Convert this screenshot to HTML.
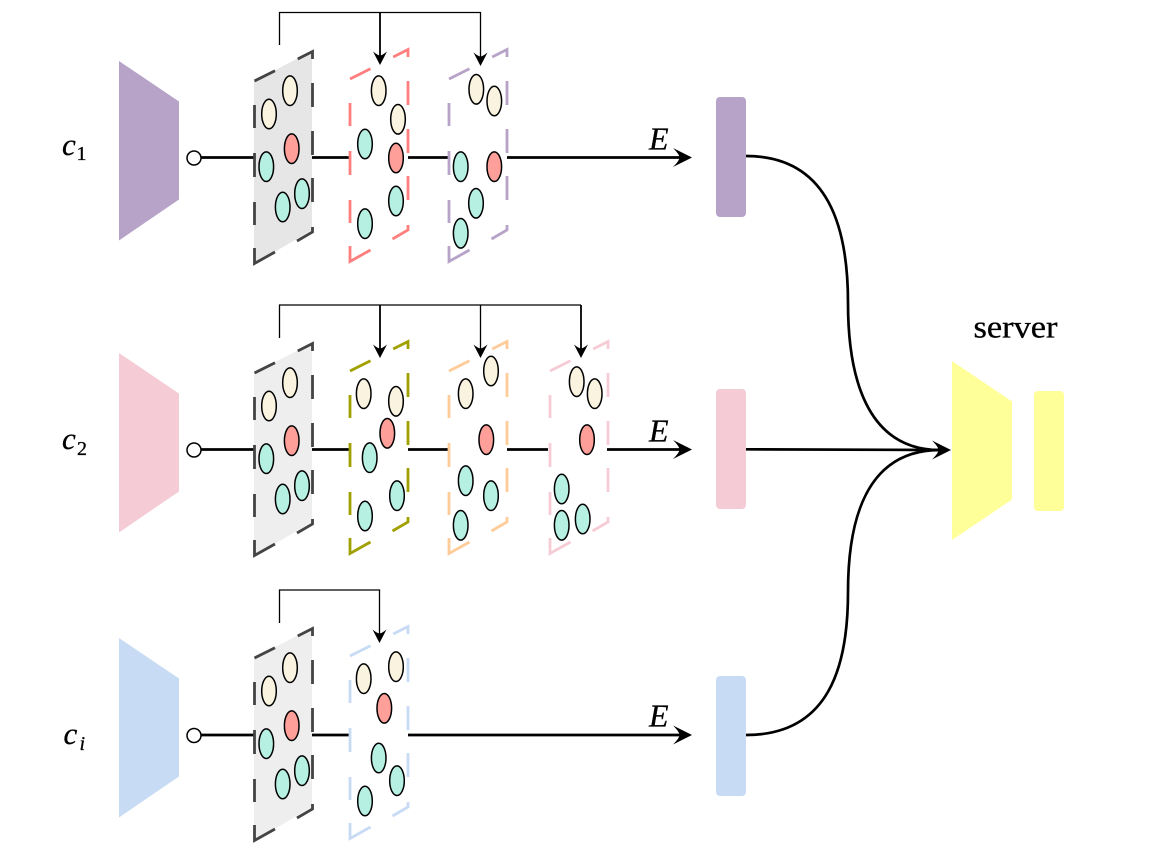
<!DOCTYPE html>
<html><head><meta charset="utf-8"><style>html,body{margin:0;padding:0;background:#fff}svg{display:block}text{font-family:"Liberation Serif",serif;fill:#000;stroke:#000;stroke-width:.3}</style></head><body>
<svg width="1157" height="848" viewBox="0 0 1157 848" xmlns="http://www.w3.org/2000/svg">
<defs>
<path id="d" fill="none" stroke="currentColor" stroke-width="2.800" d="M254.500 81L275 70.700M297.700 59L312.500 51.500V59M312.500 83V107M312.500 131V155M312.500 178V202M312.500 227V232L297 241M275 252L254.500 263.500V248M254.500 225V202M254.500 177V153M254.500 128V105"/>
<path id="a" d="M0 0L-19 -9.500Q-12.500 -3 -12.500 0Q-12.500 3 -19 9.500Z"/>
<path id="ad" d="M0 0L-7 -13.500Q-2 -9.500 0 -9.500Q2 -9.500 7 -13.500Z"/>
<ellipse id="ec" cx="0" cy="0" rx="7.300" ry="14.800" fill="#f9f3e0" stroke="#000" stroke-width="1.500"/>
<ellipse id="et" cx="0" cy="0" rx="7.300" ry="14.800" fill="#b5f0e3" stroke="#000" stroke-width="1.500"/>
<ellipse id="er" cx="0" cy="0" rx="7.300" ry="14.800" fill="#ff9f99" stroke="#000" stroke-width="1.500"/>
<g id="first">
<polygon points="254,81 312,51 312,230 254,264"/>
<use href="#d" color="#444"/>
<use href="#ec" x="290" y="90.700"/><use href="#ec" x="269" y="114"/><use href="#er" x="291.700" y="148.700"/><use href="#et" x="266.300" y="166.700"/><use href="#et" x="282.700" y="207"/><use href="#et" x="302" y="193.700"/>
</g>
</defs>

<!-- trapezoids -->
<polygon points="119,61 179,101.500 179,199.500 119,240.500" fill="#b7a3c8"/>
<polygon points="119,353 179,393.500 179,491.500 119,532.500" fill="#f5ccd6"/>
<polygon points="119,638 179,678.500 179,776.500 119,817.500" fill="#c8dbf4"/>
<polygon points="952,361 1012,401.500 1012,499.500 952,540" fill="#ffff99"/>
<rect x="1034" y="391" width="30" height="120" rx="4" fill="#ffff99"/>
<rect x="716" y="97" width="30" height="120" rx="4" fill="#b7a3c8"/>
<rect x="716" y="389" width="30" height="120" rx="4" fill="#f5ccd6"/>
<rect x="716" y="676" width="30" height="120" rx="4" fill="#c8dbf4"/>

<!-- horizontal connectors -->
<g stroke="#000" stroke-width="2.700" fill="none">
<path d="M201 157.500H254M312 157.500H349M408 157.500H448M507 157.500H680"/>
<path d="M201 449.500H254M312 449.500H349M408 449.500H448M507 449.500H548M607 449.500H680"/>
<path d="M201 735H254M312 735H349M408 735H680"/>
<path d="M746 156C830 156 848 230 848 303C848 376 866 450 940 450"/>
<path d="M746 449.300L940 450"/>
<path d="M746 735C830 735 848 665 848 592C848 520 866 450 940 450"/>
</g>
<g fill="#fff" stroke="#000" stroke-width="1.500">
<circle cx="194" cy="158" r="7"/><circle cx="194" cy="450" r="7"/><circle cx="194" cy="735.500" r="7"/>
</g>
<use href="#a" x="692" y="157.500"/><use href="#a" x="692" y="449.500"/><use href="#a" x="692" y="735"/><use href="#a" x="951" y="450"/>

<!-- row 1 -->
<use href="#first" fill="#e6e6e6"/>
<g transform="translate(95.500,-2)"><use href="#d" color="#ff7f7f"/></g>
<use href="#ec" x="378.700" y="90.700"/><use href="#ec" x="398" y="119.300"/><use href="#et" x="365" y="144"/><use href="#er" x="396" y="158"/><use href="#et" x="396" y="201"/><use href="#et" x="365" y="223.700"/>
<g transform="translate(194.500,-2)"><use href="#d" color="#b7a3c8"/></g>
<use href="#ec" x="476.300" y="89.300"/><use href="#ec" x="494.300" y="101"/><use href="#et" x="460.700" y="166.700"/><use href="#er" x="494.300" y="166.700"/><use href="#et" x="476" y="203.300"/><use href="#et" x="460.700" y="233.300"/>

<!-- row 2 -->
<g transform="translate(0,292)"><use href="#first" fill="#eeeeee"/></g>
<g transform="translate(95.500,290)"><use href="#d" color="#a0a000"/></g>
<use href="#ec" x="363.700" y="393.700"/><use href="#ec" x="396" y="401.300"/><use href="#er" x="387.300" y="433.300"/><use href="#et" x="369.700" y="457.700"/><use href="#et" x="397" y="495.700"/><use href="#et" x="365" y="516"/>
<g transform="translate(194.500,290)"><use href="#d" color="#ffcc99"/></g>
<use href="#ec" x="491" y="371"/><use href="#ec" x="465.700" y="393.700"/><use href="#er" x="486.300" y="439.700"/><use href="#et" x="465.700" y="480.700"/><use href="#et" x="491" y="495.700"/><use href="#et" x="460.700" y="525.300"/>
<g transform="translate(295.500,290)"><use href="#d" color="#f5ccd6"/></g>
<use href="#ec" x="576.700" y="381.700"/><use href="#ec" x="594.700" y="393.700"/><use href="#er" x="587" y="439.700"/><use href="#et" x="561.700" y="489"/><use href="#et" x="561.700" y="525.300"/><use href="#et" x="582.700" y="519"/>

<!-- row 3 -->
<g transform="translate(0,577)"><use href="#first" fill="#eeeeee"/></g>
<g transform="translate(95.500,575)"><use href="#d" color="#c8dbf4"/></g>
<use href="#ec" x="363.700" y="678.700"/><use href="#ec" x="396" y="666.700"/><use href="#er" x="384.300" y="708.300"/><use href="#et" x="378.700" y="758"/><use href="#et" x="397" y="780.700"/><use href="#et" x="365" y="801"/>

<!-- brackets -->
<g stroke="#000" fill="none">
<path stroke-width="1.300" d="M279.500 45V12.500H480.500V58"/>
<path stroke-width="1.800" d="M380 12.500V58"/>
<path stroke-width="1.300" d="M279.500 338V305H581M480.500 305V350"/>
<path stroke-width="1.800" d="M380 305V350M581 305V350"/>
<path stroke-width="1.300" d="M279.500 623V590H379.500V635"/>
</g>
<use href="#ad" x="380" y="65"/><use href="#ad" x="480.500" y="66"/>
<use href="#ad" x="380" y="358"/><use href="#ad" x="480.500" y="358"/><use href="#ad" x="581" y="358"/>
<use href="#ad" x="379.500" y="643"/>

<!-- labels -->
<g font-size="32" font-style="italic">
<text x="649" y="149.500">E</text><text x="649" y="441.500">E</text><text x="649" y="726.500">E</text>
</g>
<g font-size="31" font-style="italic">
<text x="62" y="155">c</text><text x="62" y="449">c</text><text x="63.500" y="744">c</text>
</g>
<text x="76.500" y="160" font-size="20">1</text>
<text x="77" y="455" font-size="20">2</text>
<text x="79.500" y="750" font-size="20" font-style="italic">i</text>
<text x="973.500" y="337.300" font-size="32" textLength="84" lengthAdjust="spacingAndGlyphs">server</text>
</svg>
</body></html>
